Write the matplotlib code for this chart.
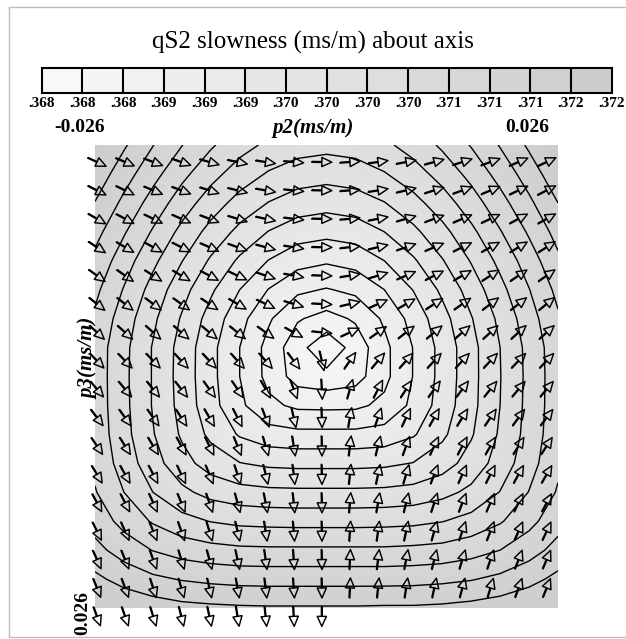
import numpy as np
import matplotlib
matplotlib.use('Agg')
import matplotlib.pyplot as plt
from matplotlib.colors import LinearSegmentedColormap, BoundaryNorm, Normalize
from matplotlib.lines import Line2D

# grid of the slowness map (ms/m), p3 grows downward
p2 = np.linspace(-0.026, 0.026, 17)
p3 = np.linspace(-0.026, 0.026, 17)

# qS2 slowness, rows = p3, cols = p2
slowness = np.array([
    [.37194, .37169, .37136, .37106, .37079, .37056, .37039, .37028, .37024, .37028, .37039, .37057, .37080, .37107, .37137, .37170, .37194],
    [.37184, .37148, .37115, .37083, .37055, .37031, .37012, .37000, .36996, .37000, .37013, .37032, .37056, .37084, .37116, .37149, .37185],
    [.37164, .37128, .37093, .37060, .37030, .37004, .36984, .36971, .36966, .36971, .36984, .37005, .37031, .37061, .37094, .37129, .37165],
    [.37145, .37108, .37072, .37037, .37005, .36977, .36954, .36939, .36934, .36939, .36955, .36978, .37006, .37038, .37073, .37109, .37146],
    [.37127, .37089, .37052, .37016, .36981, .36950, .36924, .36906, .36899, .36906, .36925, .36951, .36983, .37017, .37053, .37090, .37129],
    [.37112, .37073, .37034, .36996, .36960, .36925, .36894, .36871, .36863, .36872, .36895, .36926, .36961, .36998, .37036, .37074, .37113],
    [.37100, .37060, .37021, .36982, .36943, .36905, .36869, .36838, .36824, .36839, .36870, .36906, .36944, .36983, .37022, .37062, .37101],
    [.37092, .37053, .37013, .36974, .36934, .36895, .36855, .36816, .36783, .36817, .36857, .36896, .36935, .36975, .37015, .37054, .37094],
    [.37092, .37052, .37013, .36973, .36934, .36895, .36856, .36822, .36814, .36823, .36857, .36896, .36935, .36975, .37014, .37053, .37093],
    [.37092, .37053, .37013, .36975, .36936, .36901, .36872, .36859, .36858, .36859, .36872, .36902, .36938, .36976, .37015, .37054, .37093],
    [.37094, .37055, .37017, .36981, .36948, .36922, .36907, .36903, .36903, .36903, .36907, .36922, .36949, .36982, .37019, .37056, .37095],
    [.37098, .37062, .37027, .36996, .36972, .36956, .36949, .36947, .36947, .36947, .36949, .36956, .36972, .36997, .37028, .37063, .37099],
    [.37107, .37075, .37045, .37022, .37005, .36996, .36992, .36991, .36991, .36991, .36992, .36996, .37006, .37022, .37046, .37076, .37108],
    [.37123, .37095, .37072, .37055, .37044, .37038, .37036, .37035, .37035, .37035, .37036, .37038, .37044, .37055, .37072, .37096, .37124],
    [.37144, .37122, .37104, .37092, .37085, .37081, .37080, .37080, .37080, .37080, .37080, .37082, .37085, .37093, .37105, .37123, .37145],
    [.37172, .37154, .37141, .37133, .37128, .37125, .37124, .37124, .37124, .37124, .37124, .37125, .37128, .37133, .37142, .37155, .37173],
    [.37194, .37190, .37181, .37174, .37171, .37169, .37168, .37168, .37168, .37168, .37169, .37169, .37171, .37175, .37181, .37191, .37194],
])

# polarization arrows: positions and direction (deg, ccw on screen)
arrow_p2 = np.linspace(-0.02578, 0.02473, 17)
arrow_p3 = np.linspace(-0.02409, 0.02694, 17)
nan = np.nan
pol_angle = np.array([
    [-25, -23, -21, -19, -16, -12, -9, -5, -1, 4, 8, 11, 15, 18, 20, 23, 25],
    [-27, -26, -23, -21, -18, -14, -10, -6, -1, 4, 9, 13, 17, 20, 23, 25, 27],
    [-30, -28, -26, -24, -21, -17, -12, -7, -1, 5, 11, 16, 20, 23, 25, 28, 29],
    [-33, -31, -29, -27, -24, -20, -15, -9, -1, 6, 13, 19, 23, 26, 29, 31, 32],
    [-36, -35, -33, -31, -28, -25, -19, -11, -2, 9, 17, 23, 27, 30, 33, 34, 35],
    [-39, -38, -37, -36, -34, -31, -26, -17, -3, 13, 24, 30, 33, 35, 37, 38, 39],
    [-43, -42, -42, -41, -40, -39, -36, -29, -6, 25, 35, 38, 40, 41, 42, 42, 42],
    [-46, -46, -46, -47, -47, -48, -49, -53, -77, 55, 50, 48, 47, 47, 47, 46, 46],
    [-50, -50, -51, -52, -54, -56, -61, -70, -87, 74, 63, 57, 54, 53, 51, 50, 50],
    [-53, -54, -55, -57, -60, -63, -69, -77, -88, 80, 71, 65, 61, 58, 56, 54, 53],
    [-56, -58, -59, -62, -64, -68, -74, -81, -89, 83, 76, 70, 65, 62, 60, 58, 57],
    [-59, -61, -63, -65, -68, -72, -77, -83, -89, 84, 78, 73, 69, 66, 63, 61, 60],
    [-62, -63, -66, -68, -71, -75, -79, -84, -89, 85, 80, 76, 72, 69, 66, 64, 62],
    [-64, -66, -68, -71, -73, -77, -81, -85, -89, 86, 82, 78, 74, 71, 69, 66, 65],
    [-66, -68, -70, -73, -75, -78, -82, -86, -89, 87, 83, 79, 76, 73, 71, 69, 67],
    [-68, -70, -72, -74, -77, -80, -83, -86, -89, 87, 84, 81, 78, 75, 73, 70, 68],
    [-70, -71, -73, -76, -78, -81, -84, -87, -90, nan, nan, nan, nan, nan, nan, nan, nan],
])

# colour bar
levels = np.linspace(0.36775, 0.37195, 15)
cb_labels = ['.368', '.368', '.368', '.369', '.369', '.369', '.370', '.370',
             '.370', '.370', '.371', '.371', '.371', '.372', '.372']

plt.rcParams['font.family'] = 'Liberation Serif'
W, H = 626.0, 639.0
fig = plt.figure(figsize=(W / 100, H / 100), dpi=100)
cmap = LinearSegmentedColormap.from_list('greys', ['#f8f8f8', '#cdcdcd'])

ax = fig.add_axes([95 / W, 1 - 608 / H, 463 / W, 463 / H])
P2, P3 = np.meshgrid(p2, p3)
ax.pcolormesh(P2, P3, slowness, shading='gouraud', cmap=cmap,
              norm=Normalize(levels[0], levels[-1]))
ax.contour(P2, P3, slowness, levels=levels, colors='k', linewidths=1.0)
ax.set_xlim(-0.026, 0.026)
ax.set_ylim(0.026, -0.026)
ax.axis('off')

AX, AY = np.meshgrid(arrow_p2, arrow_p3)
ok = ~np.isnan(pol_angle)
ax.quiver(AX[ok], AY[ok], np.ones(ok.sum()), np.zeros(ok.sum()),
          angles=pol_angle[ok], pivot='middle', scale_units='inches', scale=1 / 0.2,
          width=0.0018, headwidth=11, headlength=12, headaxislength=12,
          facecolor='none', edgecolor='k', linewidth=1.05, clip_on=False)

cax = fig.add_axes([41.7 / W, 1 - 93 / H, 570 / W, 25 / H])
sm = plt.cm.ScalarMappable(norm=BoundaryNorm(levels, 256), cmap=cmap)
cb = fig.colorbar(sm, cax=cax, orientation='horizontal', drawedges=True, ticks=levels)
cb.outline.set_linewidth(1.5)
cb.dividers.set_linewidth(1.5)
cb.ax.set_xticklabels(cb_labels, fontweight='bold', fontsize=11)
cb.ax.tick_params(length=0, pad=3)

fig.text(0.5, 1 - 42 / H, 'qS2 slowness (ms/m) about axis', ha='center', va='center', fontsize=18)
fig.text(80 / W, 1 - 128 / H, '-0.026', ha='center', va='center', fontsize=14, fontweight='bold')
fig.text(313 / W, 1 - 128 / H, 'p2(ms/m)', ha='center', va='center', fontsize=15,
         fontweight='bold', style='italic')
fig.text(527 / W, 1 - 128 / H, '0.026', ha='center', va='center', fontsize=14, fontweight='bold')
fig.text(88 / W, 1 - 358 / H, 'p3(ms/m)', ha='center', va='center', fontsize=15,
         fontweight='bold', style='italic', rotation=90)
fig.text(83 / W, 1 - 613 / H, '0.026', ha='center', va='center', fontsize=14,
         fontweight='bold', rotation=90)

# thin page frame
for xs, ys in [([9, 9], [7, 637]), ([9, 640], [7, 7]), ([9, 640], [637, 637])]:
    fig.add_artist(Line2D([x / W for x in xs], [1 - y / H for y in ys], color='#bdbdbd', lw=1))

fig.savefig('out.png', dpi=100)
